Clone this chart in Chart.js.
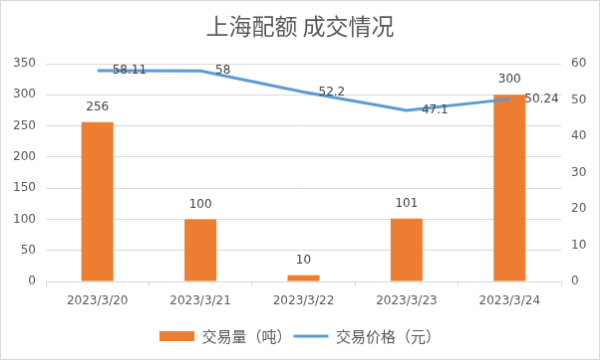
<!DOCTYPE html>
<html>
<head>
<meta charset="utf-8">
<script src="https://cdn.jsdelivr.net/npm/chart.js@4"></script>
<style>
  html, body { margin: 0; padding: 0; background: #fff; }
  canvas { display: block; border: 1px solid #d9d9d9; }
</style>
</head>
<body>
<canvas id="chart" width="600" height="360"></canvas>
<script>
// chart data
const dates = ['2023/3/20', '2023/3/21', '2023/3/22', '2023/3/23', '2023/3/24'];
const volume = [256, 100, 10, 101, 300];
const price = [58.11, 58, 52.2, 47.1, 50.24];

const numFont = 'DejaVu Sans';
const cjkFont = '"Noto Sans CJK SC", "DejaVu Sans"';

// value labels on bars and line points
const valueLabels = {
    id: 'valueLabels',
    afterDatasetsDraw(chart) {
        const ctx = chart.ctx;
        ctx.save();
        ctx.font = '12px ' + numFont;
        ctx.fillStyle = '#404040';
        ctx.textBaseline = 'middle';

        const bars = chart.getDatasetMeta(0).data;
        ctx.textAlign = 'center';
        bars.forEach((bar, i) => {
            ctx.fillText(String(volume[i]), bar.x, bar.y - 15);
        });

        const pts = chart.getDatasetMeta(1).data;
        ctx.textAlign = 'left';
        pts.forEach((pt, i) => {
            ctx.fillText(String(price[i]), pt.x + 15, pt.y);
        });
        ctx.restore();
    }
};

new Chart(document.getElementById('chart'), {
    type: 'bar',
    data: {
        labels: dates,
        datasets: [{
            type: 'bar',
            label: '交易量（吨）',
            data: volume,
            backgroundColor: '#ED7D31',
            barPercentage: 0.31,
            categoryPercentage: 1,
            yAxisID: 'y',
            order: 2
        }, {
            type: 'line',
            label: '交易价格（元）',
            data: price,
            borderColor: '#5B9BD5',
            backgroundColor: '#5B9BD5',
            borderWidth: 3,
            pointRadius: 0,
            tension: 0,
            yAxisID: 'y1',
            order: 1
        }]
    },
    options: {
        responsive: false,
        animation: false,
        layout: { padding: { left: 0, right: 0, top: 0, bottom: 5.5 } },
        plugins: {
            title: {
                display: true,
                text: '上海配额 成交情况',
                color: '#595959',
                font: { family: cjkFont, size: 23, weight: 'normal' },
                padding: { top: 11, bottom: 24.4 }
            },
            legend: {
                position: 'bottom',
                labels: {
                    color: '#595959',
                    font: { family: cjkFont, size: 15 },
                    usePointStyle: true,
                    pointStyleWidth: 35,
                    boxHeight: 10,
                    padding: 2,
                    generateLabels(chart) {
                        return [{
                            text: '交易量（吨）',
                            fillStyle: '#ED7D31',
                            strokeStyle: '#ED7D31',
                            lineWidth: 0,
                            pointStyle: 'rect',
                            datasetIndex: 0,
                            fontColor: '#595959'
                        }, {
                            text: '交易价格（元）',
                            fillStyle: '#5B9BD5',
                            strokeStyle: '#5B9BD5',
                            lineWidth: 3,
                            pointStyle: 'line',
                            datasetIndex: 1,
                            fontColor: '#595959'
                        }];
                    }
                }
            },
            tooltip: { enabled: false }
        },
        scales: {
            x: {
                offset: true,
                grid: {
                    drawOnChartArea: false,
                    drawTicks: true,
                    tickLength: 5,
                    color: '#d9d9d9',
                    offset: true
                },
                border: { color: '#d9d9d9' },
                ticks: {
                    color: '#595959',
                    font: { family: numFont, size: 12 },
                    padding: 8,
                    maxRotation: 0
                },
                afterFit(scale) { scale.height = 45.5; }
            },
            y: {
                position: 'left',
                min: 0,
                max: 350,
                ticks: {
                    stepSize: 50,
                    color: '#595959',
                    font: { family: numFont, size: 12 },
                    padding: 10
                },
                grid: { color: '#d9d9d9', drawTicks: false },
                border: { display: false },
                afterFit(scale) { scale.width = 45; }
            },
            y1: {
                position: 'right',
                min: 0,
                max: 60,
                ticks: {
                    stepSize: 10,
                    color: '#595959',
                    font: { family: numFont, size: 12 },
                    padding: 10
                },
                grid: { drawOnChartArea: false, drawTicks: false },
                border: { display: false },
                afterFit(scale) { scale.width = 38; }
            }
        }
    },
    plugins: [valueLabels]
});
</script>
</body>
</html>
